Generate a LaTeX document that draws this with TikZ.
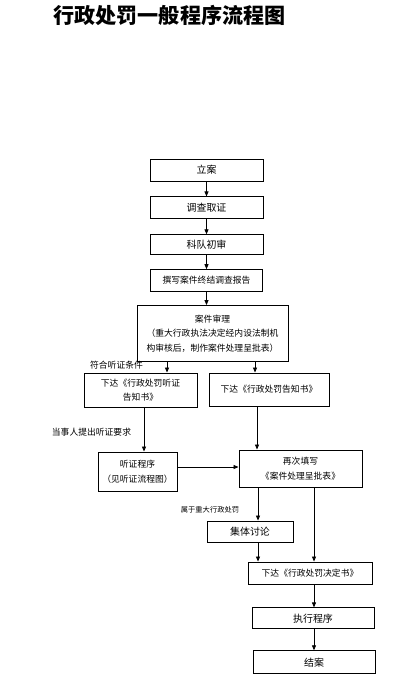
\documentclass[tikz,border=0pt]{standalone}
\usepackage{fontspec}
\setmainfont{Noto Sans CJK SC}
\usepackage{tikz}
\usetikzlibrary{positioning,arrows.meta}

\begin{document}
\begin{tikzpicture}[
      x=0.3mm, y=-0.3mm,
      box/.style={rectangle, draw=black, line width=0.75pt, align=center,
                  inner sep=0pt, font=\fontsize{7.5}{12.5}\selectfont},
      bigbox/.style={box, font=\fontsize{8.5}{12}\selectfont},
      note/.style={inner sep=0pt, font=\fontsize{7.5}{9}\selectfont},
      arrow/.style={-{Triangle[length=1.5mm,width=1.2mm]}, line width=0.7pt}
    ]
    \useasboundingbox (0,0) rectangle (404,679);
    \node[font=\fontsize{18}{20}\selectfont\bfseries] (title) at (169.5,15) {行政处罚一般程序流程图};

    % main column
    \node[bigbox, minimum width=33.9mm, minimum height=6.6mm] (lian) at (206.5,170) {立案};
    \node[bigbox, minimum width=33.9mm, minimum height=6.6mm, below=4.5mm of lian] (diaocha) {调查取证};
    \node[bigbox, minimum width=33.9mm, minimum height=6mm, below=4.5mm of diaocha] (chushen) {科队初审};
    \node[box, minimum width=33.6mm, minimum height=6.6mm, below=4.2mm of chushen] (baogao) {撰写案件终结调查报告};
    \node[box, minimum width=45.3mm, minimum height=16.8mm, below=3.9mm of baogao, xshift=1.8mm] (shenli)
      {案件审理\\（重大行政执法决定经内设法制机\\构审核后，制作案件处理呈批表）};

    % notices
    \node[box, minimum width=33.9mm, minimum height=10.2mm] (tzgaozhi) at (140.5,390) {下达《行政处罚听证\\告知书》};
    \node[box, minimum width=36mm, minimum height=9.9mm] (gaozhi) at (269,389.5) {下达《行政处罚告知书》};
    \node[box, minimum width=23.7mm, minimum height=11.7mm] (tingzheng) at (137.5,471.5) {听证程序\\（见听证流程图）};
    \node[box, minimum width=36.9mm, minimum height=11.1mm] (zaici) at (300.5,468.5) {再次填写\\《案件处理呈批表》};
    \node[bigbox, minimum width=25.8mm, minimum height=6.3mm] (jiti) at (250,531.5) {集体讨论};

    % bottom column
    \node[box, minimum width=37.2mm, minimum height=6.6mm] (jueding) at (310,573) {下达《行政处罚决定书》};
    \node[bigbox, minimum width=36.6mm, minimum height=6.3mm, below=6.9mm of jueding, xshift=0.9mm] (zhixing) {执行程序};
    \node[bigbox, minimum width=36.6mm, minimum height=6.9mm, below=6.3mm of zhixing, xshift=0.3mm] (jiean) {结案};

    % labels
    \node[note] (fuhe) at (116.5,365) {符合听证条件};
    \node[note] (yaoqiu) at (91.5,432) {当事人提出听证要求};
    \node[note, font=\fontsize{6.2}{7}\selectfont] (zhongda) at (210,510) {属于重大行政处罚};

    \draw[arrow] (lian) -- (diaocha);
    \draw[arrow] (diaocha) -- (chushen);
    \draw[arrow] (chushen) -- (baogao);
    \draw[arrow] (baogao.south) -- (baogao.south |- shenli.north);
    \draw[arrow] ([xshift=-13.65mm]shenli.south) -- ([xshift=-13.65mm]shenli.south |- tzgaozhi.north);
    \draw[arrow] ([xshift=12.75mm]shenli.south) -- ([xshift=12.75mm]shenli.south |- gaozhi.north);
    \draw[arrow] ([xshift=1.05mm]tzgaozhi.south) -- ([xshift=1.05mm]tzgaozhi.south |- tingzheng.north);
    \draw[arrow] ([xshift=-3.6mm]gaozhi.south) -- ([xshift=-3.6mm]gaozhi.south |- zaici.north);
    \draw[arrow] ([yshift=1.35mm]tingzheng.east) -- ([yshift=1.35mm]tingzheng.east -| zaici.west);
    \draw[arrow] ([xshift=-12.75mm]zaici.south) -- ([xshift=-12.75mm]zaici.south |- jiti.north);
    \draw[arrow] ([xshift=2.4mm]jiti.south) -- ([xshift=2.4mm]jiti.south |- jueding.north);
    \draw[arrow] ([xshift=4.05mm]zaici.south) -- ([xshift=4.05mm]zaici.south |- jueding.north);
    \draw[arrow] ([xshift=1.2mm]jueding.south) -- ([xshift=1.2mm]jueding.south |- zhixing.north);
    \draw[arrow] ([xshift=0.3mm]zhixing.south) -- ([xshift=0.3mm]zhixing.south |- jiean.north);
  \end{tikzpicture}
\end{document}
